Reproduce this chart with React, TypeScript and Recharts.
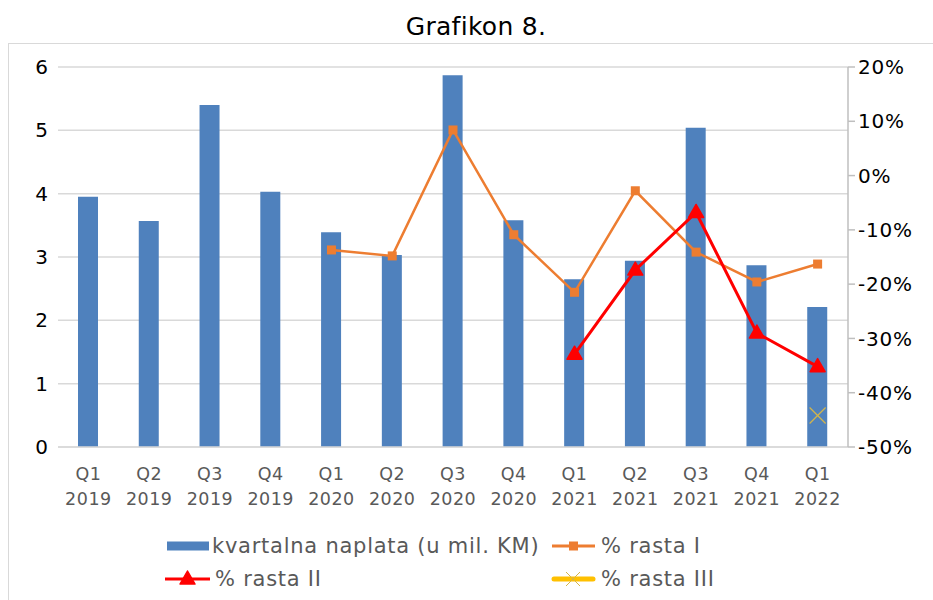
import React from 'react';
import { ComposedChart, Bar, Line, XAxis, YAxis, CartesianGrid, Legend } from 'recharts';

const quarters = ['Q1', 'Q2', 'Q3', 'Q4', 'Q1', 'Q2', 'Q3', 'Q4', 'Q1', 'Q2', 'Q3', 'Q4', 'Q1'];
const years = ['2019', '2019', '2019', '2019', '2020', '2020', '2020', '2020', '2021', '2021', '2021', '2021', '2022'];
const naplata = [3.95, 3.57, 5.40, 4.03, 3.39, 3.03, 5.87, 3.58, 2.65, 2.94, 5.04, 2.87, 2.21];
const rastaI = [null, null, null, null, -0.137, -0.148, 0.084, -0.109, -0.215, -0.028, -0.141, -0.196, -0.163];
const rastaII = [null, null, null, null, null, null, null, null, -0.329, -0.174, -0.068, -0.29, -0.352];
const rastaIII = [null, null, null, null, null, null, null, null, null, null, null, null, -0.442];
const leftTicks = [0, 1, 2, 3, 4, 5, 6];
const rightTicks = [-0.5, -0.4, -0.3, -0.2, -0.1, 0, 0.1, 0.2];

const seriesNames = ['kvartalna naplata (u mil. KM)', '% rasta I', '% rasta II', '% rasta III'];

const BLUE = '#4F81BD';
const ORANGE = '#ED7D31';
const RED = '#FF0000';
const YELLOW = '#FFC000';
const XCOLOR = '#D4B54A';
const FONT = '"DejaVu Sans", Verdana, sans-serif';

const data = quarters.map((q, i) => ({
  key: `${q} ${years[i]}`,
  naplata: naplata[i],
  rastaI: rastaI[i],
  rastaII: rastaII[i],
  rastaIII: rastaIII[i],
}));

const XTick = (props: any) => {
  const { x, y, payload } = props;
  const parts = String(payload.value).split(' ');
  return (
    <g>
      <text x={x} y={y + 25} textAnchor="middle" fontFamily={FONT} fontSize={17.5} letterSpacing={0.5} fill="#595959">
        {parts[0]}
      </text>
      <text x={x} y={y + 50} textAnchor="middle" fontFamily={FONT} fontSize={17.5} letterSpacing={0.5} fill="#595959">
        {parts[1]}
      </text>
    </g>
  );
};

const SquareDot = (props: any) => {
  const { cx, cy } = props;
  if (cx == null || cy == null || isNaN(cy)) return <g />;
  return <rect x={cx - 4.5} y={cy - 4.5} width={9} height={9} fill={ORANGE} />;
};

const TriDot = (props: any) => {
  const { cx, cy } = props;
  if (cx == null || cy == null || isNaN(cy)) return <g />;
  return <path d={`M${cx},${cy - 8} L${cx + 7.5},${cy + 5} L${cx - 7.5},${cy + 5} Z`} fill={RED} stroke={RED} strokeWidth={1.5} strokeLinejoin="round" />;
};

const XDot = (props: any) => {
  const { cx, cy } = props;
  if (cx == null || cy == null || isNaN(cy)) return <g />;
  return (
    <g stroke={XCOLOR} strokeWidth={1.2}>
      <line x1={cx - 8} y1={cy - 8} x2={cx + 8} y2={cy + 8} />
      <line x1={cx - 8} y1={cy + 8} x2={cx + 8} y2={cy - 8} />
    </g>
  );
};

const LegendContent = () => {
  const ts = { fontFamily: FONT, fontSize: 21, fill: '#595959', letterSpacing: 0.75 } as any;
  const r1 = 21;
  const r2 = 54;
  return (
    <svg width={933} height={70} style={{ display: 'block' }}>
      <rect x={167} y={r1 - 4.5} width={42} height={9} fill={BLUE} />
      <text x={212} y={r1} dominantBaseline="central" {...ts}>{seriesNames[0]}</text>
      <line x1={552} y1={r1} x2={595} y2={r1} stroke={ORANGE} strokeWidth={3} />
      <rect x={569} y={r1 - 4.5} width={9} height={9} fill={ORANGE} />
      <text x={601} y={r1} dominantBaseline="central" {...ts}>{seriesNames[1]}</text>
      <line x1={165} y1={r2} x2={210} y2={r2} stroke={RED} strokeWidth={3} />
      <path d={`M187.5,${r2 - 8} L195,${r2 + 5} L180,${r2 + 5} Z`} fill={RED} stroke={RED} strokeWidth={1.5} strokeLinejoin="round" />
      <text x={215} y={r2} dominantBaseline="central" {...ts}>{seriesNames[2]}</text>
      <line x1={554} y1={r2} x2={593} y2={r2} stroke={YELLOW} strokeWidth={5} strokeLinecap="round" />
      <g stroke={XCOLOR} strokeWidth={1}>
        <line x1={566} y1={r2 - 7} x2={580} y2={r2 + 7} />
        <line x1={566} y1={r2 + 7} x2={580} y2={r2 - 7} />
      </g>
      <text x={601} y={r2} dominantBaseline="central" {...ts}>{seriesNames[3]}</text>
    </svg>
  );
};

export default function App() {
  return (
    <div style={{ position: 'absolute', left: 0, top: 0, width: 933, height: 600, overflow: 'hidden', background: '#fff' }}>
      <div
        style={{
          position: 'absolute',
          left: 8,
          top: 43,
          width: 930,
          height: 570,
          border: '1px solid #d9d9d9',
          boxSizing: 'border-box',
        }}
      />
      <div
        style={{
          position: 'absolute',
          left: 0,
          top: 14,
          width: 952,
          textAlign: 'center',
          fontFamily: FONT,
          fontSize: 25,
          lineHeight: '25px',
          letterSpacing: 0.3,
          color: '#000',
        }}
      >
        Grafikon 8.
      </div>
      <div style={{ position: 'absolute', left: 0, top: 0 }}>
        <ComposedChart width={933} height={600} data={data} margin={{ top: 67, right: 0, bottom: 0, left: 0 }}>
          <CartesianGrid yAxisId="left" vertical={false} stroke="#d9d9d9" strokeWidth={1.5} />
          <XAxis
            dataKey="key"
            height={153}
            interval={0}
            tickLine={false}
            axisLine={{ stroke: '#d9d9d9', strokeWidth: 1.5 }}
            tick={<XTick />}
          />
          <YAxis
            yAxisId="left"
            orientation="left"
            width={58}
            domain={[0, 6]}
            ticks={leftTicks}
            axisLine={false}
            tickLine={false}
            tickSize={0}
            tickMargin={10}
            tick={{ fontFamily: FONT, fontSize: 20, fill: '#000' }}
          />
          <YAxis
            yAxisId="right"
            orientation="right"
            width={85}
            domain={[-0.5, 0.2]}
            ticks={rightTicks}
            allowDataOverflow
            axisLine={{ stroke: '#bfbfbf', strokeWidth: 1.5 }}
            tickLine={{ stroke: '#bfbfbf', strokeWidth: 1.5 }}
            tickSize={7}
            tickMargin={3}
            tickFormatter={(v: number) => `${Math.round(v * 100)}%`}
            tick={{ fontFamily: FONT, fontSize: 20, fill: '#000', textAnchor: 'start', letterSpacing: 0.8 }}
          />
          <Bar yAxisId="left" dataKey="naplata" name={seriesNames[0]} fill={BLUE} barSize={20} isAnimationActive={false} />
          <Line
            yAxisId="right"
            dataKey="rastaI"
            name={seriesNames[1]}
            type="linear"
            stroke={ORANGE}
            strokeWidth={2.5}
            dot={<SquareDot />}
            activeDot={false}
            isAnimationActive={false}
          />
          <Line
            yAxisId="right"
            dataKey="rastaII"
            name={seriesNames[2]}
            type="linear"
            stroke={RED}
            strokeWidth={3}
            dot={<TriDot />}
            activeDot={false}
            isAnimationActive={false}
          />
          <Line
            yAxisId="right"
            dataKey="rastaIII"
            name={seriesNames[3]}
            type="linear"
            stroke={YELLOW}
            strokeWidth={3}
            dot={<XDot />}
            activeDot={false}
            isAnimationActive={false}
          />
          <Legend
            layout="horizontal"
            verticalAlign="middle"
            align="center"
            wrapperStyle={{ top: 525, left: 0, width: 933, height: 70 }}
            content={() => <LegendContent />}
          />
        </ComposedChart>
      </div>
    </div>
  );
}
